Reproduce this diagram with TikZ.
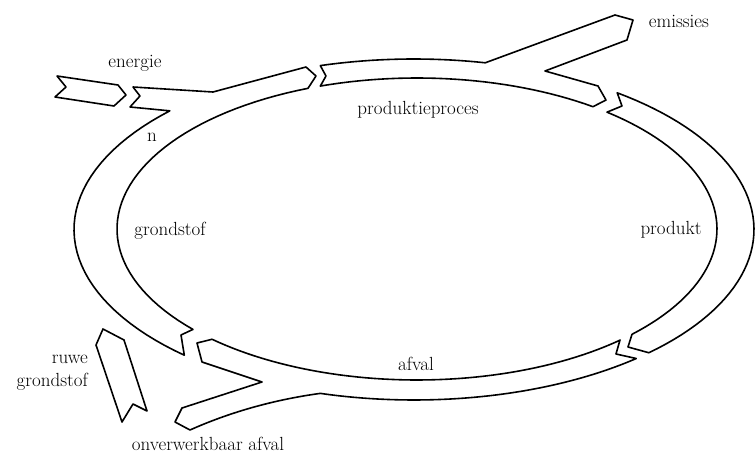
\documentclass[tikz,border=0pt]{standalone}
\begin{document}
\begin{tikzpicture}[x=1pt,y=-1pt,
  band/.style={draw=black,line width=1.6pt,line join=round},
  lbl/.style={font=\fontsize{19}{23}\selectfont,inner sep=0pt}]
\useasboundingbox (0,0) rectangle (756,454);
% outer ellipse: centre (414,229.5), radii 340 x 170.5
% inner ellipse: centre (417,229), radii 300 x 151
% energie arrow
\draw[band] (57,76) -- (118,85) -- (126,95) -- (114,106) -- (55,97) -- (66,87) -- cycle;
% grondstof arc merged with top-left piece
\draw[band] (193,329.4) -- (181,335) -- (184.3,355.2)
  -- plot[domain=132.5:224.1,samples=40,variable=\t] ({414+340*cos(\t)},{229.5+170.5*sin(\t)})
  -- (130,107) -- (140,96) -- (133,87) -- (213,92) -- (306,67) -- (316,76) -- (308,88.3)
  -- plot[domain=248.7:138.3,samples=50,variable=\t] ({417+300*cos(\t)},{229+151*sin(\t)})
  -- cycle;
% produktieproces with emissies branch
\draw[band] (320.3,65.6)
  -- plot[domain=254:282.1,samples=20,variable=\t] ({414+340*cos(\t)},{229.5+170.5*sin(\t)})
  -- (615,15) -- (633,20) -- (627,40) -- (545,71) -- (598,86) -- (606,100) -- (593,106.7)
  -- plot[domain=305.9:251.2,samples=30,variable=\t] ({417+300*cos(\t)},{229+151*sin(\t)})
  -- (326,76) -- cycle;
% produkt
\draw[band] (617.2,92.8)
  -- plot[domain=-53.3:46.3,samples=50,variable=\t] ({414+340*cos(\t)},{229.5+170.5*sin(\t)})
  -- (628,347) -- (632,334.3)
  -- plot[domain=44.2:-50.7,samples=50,variable=\t] ({417+300*cos(\t)},{229+151*sin(\t)})
  -- (622,106) -- cycle;
% afval with onverwerkbaar branch
\draw[band] (620,340) -- (616,354) -- (636.2,358.5)
  -- plot[domain=49.2:106,samples=40,variable=\t] ({414+340*cos(\t)},{229.5+170.5*sin(\t)})
  .. controls (272,400) and (228,413) .. (190,430)
  -- (175,422) -- (182,408) -- (262,382) -- (202,362) -- (197,343) -- (212,339.3)
  -- plot[domain=133.1:47.4,samples=50,variable=\t] ({417+300*cos(\t)},{229+151*sin(\t)})
  -- cycle;
% ruwe grondstof arrow
\draw[band] (103,329) -- (124,340) -- (147,411) -- (133,404) -- (122,422) -- (96,345) -- cycle;
% labels
\node[lbl] (energie) at (135,63) {energie};
\node[lbl] (emissies) at (679,21) {emissies};
\node[lbl] (proces) at (418,110) {produktieproces};
\node[lbl] (grondstof) at (170,231) {grondstof};
\node[lbl] (produkt) at (671,230) {produkt};
\node[lbl] (afval) at (416,364) {afval};
\node[lbl,align=right,anchor=east] (ruwe) at (88,373) {ruwe\\grondstof};
\node[lbl] (onverw) at (208,444) {onverwerkbaar afval};
\node[lbl] (n) at (152,137) {n};
\end{tikzpicture}
\end{document}
